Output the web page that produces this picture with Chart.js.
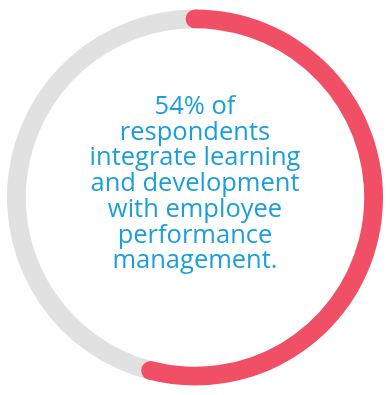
<!DOCTYPE html>
<html>
<head>
<meta charset="utf-8">
<script src="https://cdn.jsdelivr.net/npm/chart.js@4"></script>
<style>
  html, body { margin: 0; padding: 0; background: #fff; }
  #wrap { width: 390px; height: 395px; position: relative; }
</style>
</head>
<body>
<div id="wrap"><canvas id="chart"></canvas></div>
<script>
// ─── DATA ─────────────────────────────────────────────────────────────────────
const categories = ['Integrate L&D with performance management', 'Do not'];
const shareValues = [54, 46];
const sliceColors = ['#f14f65', '#e1e1e1'];
const centerLines = [
  '54% of',
  'respondents',
  'integrate learning',
  'and development',
  'with employee',
  'performance',
  'management.'
];

// Round caps on the highlighted slice, placed from the arc's own geometry
const roundCaps = {
  id: 'roundCaps',
  afterDatasetsDraw(chart) {
    const arc = chart.getDatasetMeta(0).data[0];
    if (!arc) return;
    const { x, y, startAngle, endAngle, innerRadius, outerRadius } = arc.getProps(
      ['x', 'y', 'startAngle', 'endAngle', 'innerRadius', 'outerRadius'], true);
    const mid = (innerRadius + outerRadius) / 2;
    const r = (outerRadius - innerRadius) / 2;
    const ctx = chart.ctx;
    ctx.save();
    ctx.fillStyle = sliceColors[0];
    [startAngle, endAngle].forEach(a => {
      ctx.beginPath();
      ctx.arc(x + Math.cos(a) * mid, y + Math.sin(a) * mid, r, 0, Math.PI * 2);
      ctx.fill();
    });
    ctx.restore();
  }
};

// Centre label (sits a little above the ring centre, as in the source)
const centerText = {
  id: 'centerText',
  afterDraw(chart) {
    const arc = chart.getDatasetMeta(0).data[0];
    if (!arc) return;
    const ctx = chart.ctx;
    const lineH = 25.7;
    const firstBaseline = arc.y - 83.5;
    ctx.save();
    ctx.fillStyle = '#1b9fdc';
    ctx.font = '25.5px "Open Sans", sans-serif';
    ctx.textAlign = 'center';
    ctx.textBaseline = 'alphabetic';
    centerLines.forEach((line, i) => {
      ctx.fillText(line, arc.x, firstBaseline + i * lineH);
    });
    ctx.restore();
  }
};

new Chart(document.getElementById('chart'), {
  type: 'doughnut',
  data: {
    labels: categories,
    datasets: [{
      data: shareValues,
      backgroundColor: sliceColors,
      borderWidth: 0,
      hoverOffset: 0
    }]
  },
  options: {
    responsive: true,
    maintainAspectRatio: false,
    animation: false,
    cutout: '90%',
    layout: { padding: 7 },
    plugins: {
      legend: { display: false },
      tooltip: { enabled: false }
    }
  },
  plugins: [roundCaps, centerText]
});
</script>
</body>
</html>
